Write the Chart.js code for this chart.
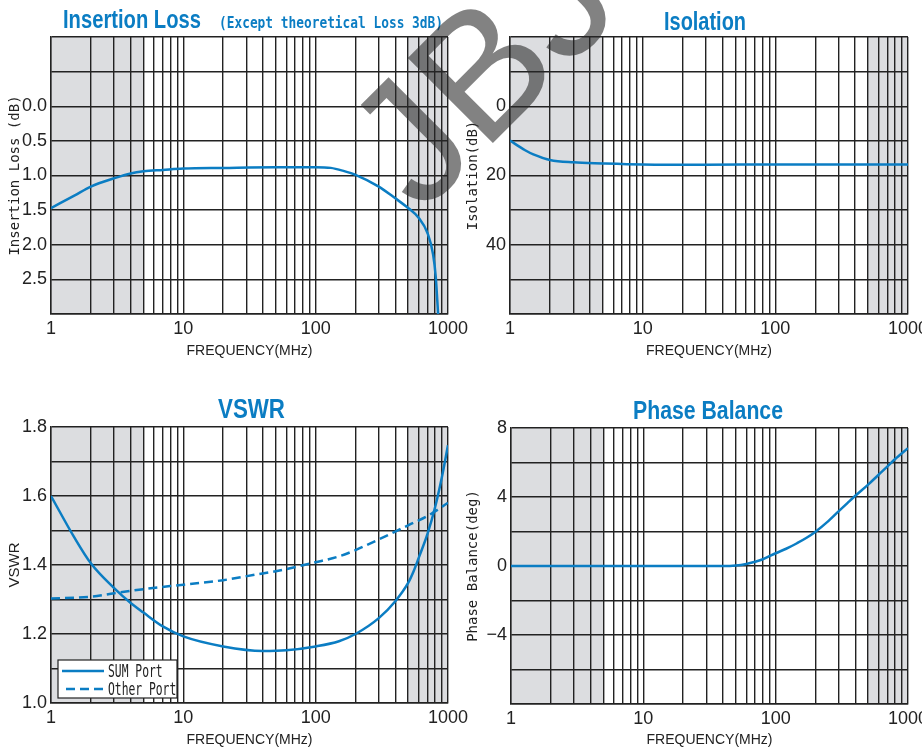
<!DOCTYPE html>
<html>
<head>
<meta charset="utf-8">
<title>Power Divider Characteristics</title>
<script src="https://cdn.jsdelivr.net/npm/chart.js@4.4.1/dist/chart.umd.min.js"></script>
<style>
  html, body { margin: 0; padding: 0; background: #fff; overflow: hidden; }
  body { width: 922px; height: 749px; position: relative; }
  canvas { position: absolute; }
  #watermark { position: absolute; left: 0; top: 0; pointer-events: none; }
</style>
</head>
<body>
<canvas id="loss" width="472" height="370" style="left:0;top:0"></canvas>
<canvas id="isolation" width="472" height="370" style="left:460px;top:0"></canvas>
<canvas id="vswr" width="472" height="359" style="left:0;top:390px"></canvas>
<canvas id="phase" width="472" height="359" style="left:460px;top:390px"></canvas>
<svg id="watermark" width="922" height="749">
  <text x="421" y="215" transform="rotate(-45 421 215)" font-family="Liberation Sans, Arial, sans-serif"
        font-size="175" fill="#282828" fill-opacity="0.58">JBJ</text>
</svg>
<script>
// frequency axis (MHz), shared by all four panels
const freqGrid = [1, 2, 3, 4, 5, 6, 7, 8, 9, 10, 20, 30, 40, 50, 60, 70, 80, 90,
  100, 200, 300, 400, 500, 600, 700, 800, 900, 1000];
const freqLabels = [1, 10, 100, 1000];
const shadeBands = [[1, 5], [500, 1000]];

// Insertion Loss (dB)
const lossFreq = [1, 1.5, 2, 3, 4, 5, 7, 10, 20, 50, 100, 130, 160, 200, 300, 400, 500, 600, 700, 772, 808, 830, 845];
const lossDb = [1.47, 1.29, 1.16, 1.04, 0.97, 0.94, 0.92, 0.90, 0.89, 0.88, 0.88, 0.89, 0.93, 0.99, 1.16, 1.33, 1.47, 1.61, 1.83, 2.14, 2.46, 2.8, 3.05];
const lossGrid = [-1, -0.5, 0, 0.5, 1, 1.5, 2, 2.5, 3];
const lossTickLabels = ['', '', '0.0', '0.5', '1.0', '1.5', '2.0', '2.5', ''];

// Isolation (dB)
const isoFreq = [1, 1.3, 1.5, 2, 3, 5, 10, 30, 100, 300, 1000];
const isoDb = [9.9, 12.7, 13.9, 15.5, 16.2, 16.5, 16.8, 16.9, 16.8, 16.8, 16.8];
const isoGrid = [-20, -10, 0, 10, 20, 30, 40, 50, 60];
const isoTickLabels = ['', '', '0', '', '20', '', '40', '', ''];

// VSWR
const vswrFreq = [1, 1.5, 2, 3, 4, 5, 7, 10, 20, 40, 60, 100, 150, 200, 300, 400, 500, 550, 600, 700, 800, 900, 1000];
const sumPort = [1.60, 1.48, 1.405, 1.333, 1.29, 1.262, 1.222, 1.193, 1.164, 1.151, 1.153, 1.164, 1.179, 1.2, 1.246, 1.295, 1.348, 1.382, 1.42, 1.49, 1.568, 1.655, 1.747];
const otherFreq = [1, 2, 3, 5, 10, 20, 35, 50, 100, 150, 200, 250, 300, 400, 500, 700, 1000];
const otherPort = [1.303, 1.308, 1.318, 1.33, 1.343, 1.356, 1.372, 1.382, 1.408, 1.425, 1.443, 1.46, 1.474, 1.497, 1.515, 1.542, 1.58];
const vswrGrid = [1.0, 1.1, 1.2, 1.3, 1.4, 1.5, 1.6, 1.7, 1.8];
const vswrTickLabels = ['1.0', '', '1.2', '', '1.4', '', '1.6', '', '1.8'];

// Phase Balance (deg)
const phaseFreq = [1, 10, 40, 50, 60, 70, 80, 100, 120, 145, 170, 200, 250, 300, 350, 400, 500, 600, 700, 800, 1000];
const phaseDeg = [0, 0, 0, 0.03, 0.12, 0.25, 0.39, 0.74, 1.0, 1.32, 1.62, 1.99, 2.6, 3.18, 3.66, 4.07, 4.72, 5.29, 5.77, 6.2, 6.83];
const phaseGrid = [-8, -6, -4, -2, 0, 2, 4, 6, 8];
const phaseTickLabels = ['', '', '\u22124', '', '0', '', '4', '', '8'];

const BLUE = '#0b7dc3';
const INK = '#222';
const NARROW = "'Liberation Sans Narrow', 'Arial Narrow', sans-serif";
const MONO = "'DejaVu Sans Mono', monospace";

// blue panel headings, drawn in canvas coordinates
const panelTitles = {
  loss: [
    { text: 'Insertion Loss', x: 63, y: 28, font: 'bold 26px "Liberation Sans", Arial, sans-serif', width: 138 },
    { text: '(Except theoretical Loss 3dB)', x: 219, y: 28, font: 'bold 16px ' + MONO, width: 224 }
  ],
  isolation: [{ text: 'Isolation', x: 204, y: 30, font: 'bold 26px "Liberation Sans", Arial, sans-serif', width: 82 }],
  vswr: [{ text: 'VSWR', x: 218, y: 28, font: 'bold 27px "Liberation Sans", Arial, sans-serif', width: 67 }],
  phase: [{ text: 'Phase Balance', x: 173, y: 29, font: 'bold 26px "Liberation Sans", Arial, sans-serif', width: 150 }]
};

const points = (xs, ys) => xs.map((x, i) => ({ x, y: ys[i] }));

// grey out-of-band areas behind the grid
const shadePlugin = {
  id: 'shade',
  beforeDraw(chart) {
    const { ctx, chartArea: a, scales: { x } } = chart;
    ctx.save();
    ctx.fillStyle = '#dcdde0';
    shadeBands.forEach(([lo, hi]) => {
      const x0 = x.getPixelForValue(lo);
      const x1 = x.getPixelForValue(hi);
      ctx.fillRect(x0, a.top, x1 - x0, a.bottom - a.top);
    });
    ctx.restore();
  }
};

const titlePlugin = {
  id: 'panelTitle',
  afterDraw(chart) {
    const ctx = chart.ctx;
    ctx.save();
    ctx.fillStyle = BLUE;
    ctx.textBaseline = 'alphabetic';
    (panelTitles[chart.canvas.id] || []).forEach(p => {
      ctx.font = p.font;
      ctx.fillText(p.text, p.x, p.y, p.width);
    });
    ctx.restore();
  }
};

// boxed legend in the lower-left corner of the VSWR plot
const boxLegend = {
  id: 'boxLegend',
  afterDraw(chart) {
    const { ctx, chartArea: a } = chart;
    const left = a.left + 7, top = a.bottom - 43, w = 119, h = 38;
    ctx.save();
    ctx.fillStyle = '#fff';
    ctx.fillRect(left, top, w, h);
    ctx.strokeStyle = INK;
    ctx.lineWidth = 1.2;
    ctx.strokeRect(left, top, w, h);
    ctx.font = '18px ' + MONO;
    ctx.textBaseline = 'middle';
    chart.data.datasets.forEach((ds, i) => {
      const y = top + 11 + i * 18;
      ctx.strokeStyle = ds.borderColor;
      ctx.lineWidth = ds.borderWidth;
      ctx.setLineDash(ds.borderDash || []);
      ctx.beginPath();
      ctx.moveTo(left + (ds.borderDash ? 8 : 4), y);
      ctx.lineTo(left + 46, y);
      ctx.stroke();
      ctx.setLineDash([]);
      ctx.fillStyle = INK;
      ctx.fillText(ds.label, left + 50, y + 1, ctx.measureText(ds.label).width * 0.63);
    });
    ctx.restore();
  }
};

function xScale(height, titlePad) {
  return {
    type: 'logarithmic',
    min: 1,
    max: 1000,
    afterBuildTicks: s => { s.ticks = freqGrid.map(v => ({ value: v })); },
    afterFit: s => { s.height = height; },
    grid: { color: INK, lineWidth: 1.4, drawTicks: false },
    border: { color: INK, width: 1.4 },
    ticks: {
      autoSkip: false,
      maxRotation: 0,
      padding: 4,
      color: INK,
      font: { family: NARROW, size: 18 },
      callback: v => freqLabels.includes(v) ? String(v) : ''
    },
    title: {
      display: true,
      text: 'FREQUENCY(MHz)',
      color: INK,
      font: { family: NARROW, size: 14 },
      padding: { top: 0, bottom: titlePad }
    }
  };
}

function yScale(o) {
  return {
    type: 'linear',
    min: o.grid[0],
    max: o.grid[o.grid.length - 1],
    reverse: !!o.reverse,
    afterBuildTicks: s => { s.ticks = o.grid.map(v => ({ value: v })); },
    afterFit: s => { s.width = o.width; },
    grid: { color: INK, lineWidth: 1.4, drawTicks: false },
    border: { color: INK, width: 1.4 },
    ticks: {
      padding: 4,
      color: INK,
      font: { family: NARROW, size: 18 },
      callback: (v, i) => o.labels[i]
    },
    title: {
      display: true,
      text: o.title,
      color: INK,
      font: o.titleFont || { family: MONO, size: 14 },
      padding: { top: o.titlePad, bottom: 0 }
    }
  };
}

function options(padding, x, y) {
  return {
    responsive: false,
    animation: false,
    events: [],
    layout: { padding },
    plugins: { legend: { display: false }, tooltip: { enabled: false } },
    elements: { point: { radius: 0 } },
    scales: { x, y }
  };
}

function line(label, xs, ys, dash) {
  const ds = {
    label,
    data: points(xs, ys),
    borderColor: BLUE,
    borderWidth: 2.5,
    cubicInterpolationMode: 'monotone',
    fill: false
  };
  if (dash) ds.borderDash = dash;
  return ds;
}

new Chart(document.getElementById('loss'), {
  type: 'line',
  data: { datasets: [line('Insertion Loss', lossFreq, lossDb)] },
  options: options({ top: 37, right: 21, left: 0, bottom: 0 }, xScale(56, 10),
    yScale({ grid: lossGrid, labels: lossTickLabels, reverse: true, width: 51, title: 'Insertion Loss (dB)', titlePad: 7 })),
  plugins: [shadePlugin, titlePlugin]
});

new Chart(document.getElementById('isolation'), {
  type: 'line',
  data: { datasets: [line('Isolation', isoFreq, isoDb)] },
  options: options({ top: 37, right: 20, left: 0, bottom: 0 }, xScale(56, 10),
    yScale({ grid: isoGrid, labels: isoTickLabels, reverse: true, width: 50, title: 'Isolation(dB)', titlePad: 5 })),
  plugins: [shadePlugin, titlePlugin]
});

new Chart(document.getElementById('vswr'), {
  type: 'line',
  data: {
    datasets: [
      line('SUM Port', vswrFreq, sumPort),
      line('Other Port', otherFreq, otherPort, [9, 5])
    ]
  },
  options: options({ top: 37, right: 20, left: 0, bottom: 0 }, xScale(46, 0),
    yScale({ grid: vswrGrid, labels: vswrTickLabels, width: 51, title: 'VSWR', titlePad: 6,
      titleFont: { family: NARROW, size: 15 } })),
  plugins: [shadePlugin, titlePlugin, boxLegend]
});

new Chart(document.getElementById('phase'), {
  type: 'line',
  data: { datasets: [line('Phase Balance', phaseFreq, phaseDeg)] },
  options: options({ top: 38, right: 20, left: 0, bottom: 0 }, xScale(45, 0),
    yScale({ grid: phaseGrid, labels: phaseTickLabels, width: 51, title: 'Phase Balance(deg)', titlePad: 5 })),
  plugins: [shadePlugin, titlePlugin]
});
</script>
</body>
</html>
